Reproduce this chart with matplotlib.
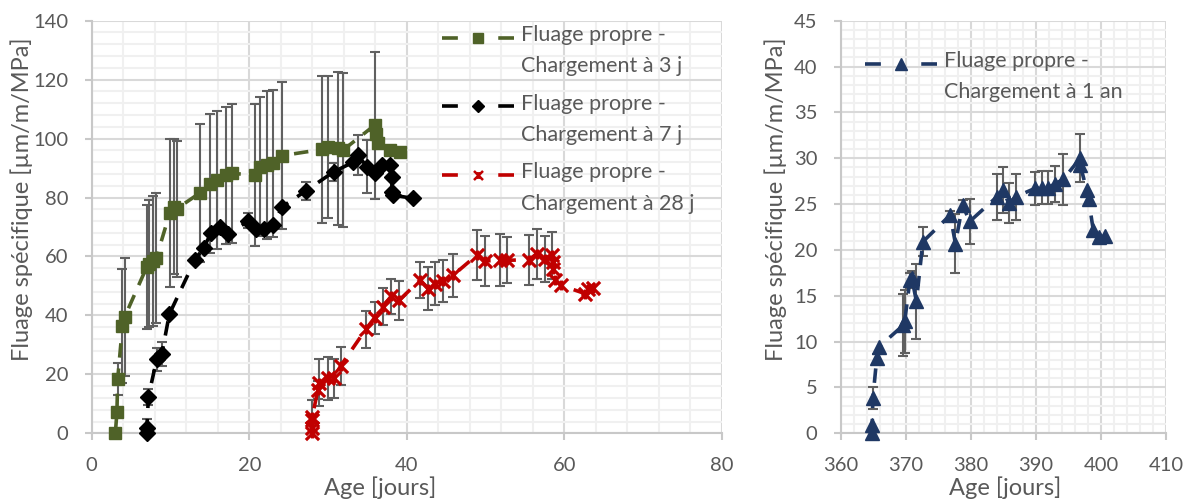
import numpy as np
import matplotlib
matplotlib.use("Agg")
import matplotlib.pyplot as plt
from matplotlib.path import Path
from matplotlib.lines import Line2D
from matplotlib.legend_handler import HandlerLine2D
from matplotlib.ticker import MultipleLocator

# ---------------- data ----------------
x3 = [3.0, 3.2, 3.3, 3.9, 4.2, 7.0, 7.3, 7.8, 8.2, 9.9, 10.4, 10.8, 13.7, 15.0, 15.9, 17.1,
      17.8, 20.7, 21.4, 22.2, 23.0, 24.1, 29.2, 30.0, 31.3, 31.9, 35.9, 36.1, 36.3, 37.9, 39.1]
y3 = [0, 7.1, 18.4, 36.4, 39.6, 56.5, 57.5, 58.5, 59.5, 74.7, 76.9, 76.2, 81.5, 84.7, 85.9, 87.6,
      88.2, 87.6, 90.5, 91.0, 91.6, 94.2, 96.3, 97.2, 96.7, 96.1, 104.5, 101.5, 98.5, 96.1, 95.6]
e3 = [0, 1, 5.5, 19.5, 20, 21, 21.5, 22, 22, 25, 23, 23, 23.5, 23.5, 23.5, 23.2,
      23.7, 24, 23.6, 25.2, 25, 25, 25, 24, 26, 26, 25, 0, 0, 0, 0]

x7 = [7.0, 7.0, 7.2, 8.25, 8.9, 9.85, 13.1, 14.2, 15.2, 16.3, 17.3, 19.9, 20.9, 21.9, 23.0, 24.2,
      27.2, 30.7, 33.2, 33.8, 34.9, 36.0, 36.8, 37.9, 38.1, 38.1, 38.3, 40.8]
y7 = [0, 1.8, 12.4, 25.1, 26.9, 40.4, 58.8, 63.0, 68.1, 70.1, 67.5, 72.1, 69.2, 69.2, 70.6, 76.9,
      82.3, 88.7, 92.0, 94.4, 90.5, 88.2, 91.0, 91.0, 87.0, 82.0, 80.8, 79.7]
e7 = [0.5, 3, 2.8, 4, 4, 0, 0, 0, 0, 0, 0, 2.5, 0, 0, 0, 0,
      3, 3, 0, 6.8, 9, 0, 0, 0, 0, 0, 0, 0]

x28 = [27.9, 27.9, 27.9, 28.0, 28.7, 28.9, 30.0, 30.7, 31.6, 34.8, 35.9, 37.0, 38.0, 39.0, 41.7,
       42.7, 43.6, 44.6, 45.9, 48.9, 49.9, 51.8, 52.7, 55.5, 56.5, 57.5, 58.4, 58.6, 58.6, 58.8,
       59.6, 62.6, 63.0, 63.6]
y28 = [0, 1.7, 4.5, 5.6, 14.7, 17.2, 18.6, 18.6, 22.9, 35.3, 39.2, 43.0, 46.5, 45.1, 52.0,
       49.1, 50.8, 51.6, 53.7, 60.5, 58.5, 58.7, 58.7, 58.9, 60.9, 59.2, 60.4, 58.1, 55.9, 51.9,
       50.2, 47.4, 49.1, 49.4]
e28 = [0, 0, 0, 5.7, 3, 8, 7.2, 6.5, 6.5, 6.3, 5.4, 6.3, 6.0, 6.5, 6.2,
       7.3, 7.3, 7.1, 7.3, 8.5, 8.4, 8.8, 7.8, 8.5, 8.4, 7.8, 8.0, 0, 0, 0,
       0, 0, 0, 0]

x365 = [364.8, 364.8, 364.9, 365.5, 365.8, 369.6, 369.8, 370.6, 370.9, 371.6, 372.6, 376.8, 377.6,
        378.7, 379.8, 384.0, 384.9, 385.8, 386.9, 389.8, 390.9, 391.9, 392.9, 394.2, 396.8, 396.8,
        397.8, 398.1, 398.8, 399.7, 400.6]
y365 = [0, 0.9, 3.8, 8.2, 9.4, 11.8, 12.2, 16.7, 16.9, 14.4, 20.9, 23.8, 20.7,
        24.9, 23.1, 25.8, 26.5, 25.1, 25.8, 26.7, 26.8, 26.8, 27.2, 27.7, 30.0, 29.3,
        26.5, 25.5, 22.2, 21.4, 21.5]
e365 = [0, 0, 1.2, 0.5, 0, 3.4, 3.4, 0.8, 0.8, 4.1, 1.6, 0.4, 3.2,
        0.5, 2.5, 2.5, 2.5, 2.2, 2.5, 1.8, 1.8, 1.8, 2.0, 2.8, 2.6, 0,
        0, 0, 0, 0, 0]

label_3 = "Fluage propre -\nChargement à 3 j"
label_7 = "Fluage propre -\nChargement à 7 j"
label_28 = "Fluage propre -\nChargement à 28 j"
label_365 = "Fluage propre -\nChargement à 1 an"
xlabel = "Age [jours]"
ylabel = "Fluage spécifique [µm/m/MPa]"

# ---------------- style ----------------
plt.rcParams['font.family'] = ['Lato', 'DejaVu Sans']
TXT = '#595959'
GREEN, BLACK, RED, BLUE = '#4F6228', '#000000', '#C00000', '#1F3864'
LW = 2.6
DASH = (0, (4, 3))
TICK_FS = 14.5
TITLE_FS = 17
LEG_FS = 15.5

star = Path([(-1, -1), (1, 1), (-1, 1), (1, -1), (0, -0.75), (0, 0.75)],
            [Path.MOVETO, Path.LINETO] * 3)

W, H = 1193, 501
fig = plt.figure(figsize=(W / 100, H / 100), dpi=100)
axL = fig.add_axes([91.7 / W, 1 - 433.3 / H, (722 - 91.7) / W, (433.3 - 20.7) / H])
axR = fig.add_axes([841 / W, 1 - 433.3 / H, (1166 - 841) / W, (433.3 - 20.7) / H])


def style(ax, xlim, ylim, xmaj, xmin, ymaj, ymin):
    ax.set_xlim(*xlim)
    ax.set_ylim(*ylim)
    ax.xaxis.set_major_locator(MultipleLocator(xmaj))
    ax.xaxis.set_minor_locator(MultipleLocator(xmin))
    ax.yaxis.set_major_locator(MultipleLocator(ymaj))
    ax.yaxis.set_minor_locator(MultipleLocator(ymin))
    ax.grid(which='minor', color='#F0F0F0', lw=1.5, zorder=0)
    ax.grid(which='major', color='#D9D9D9', lw=1.5, zorder=0)
    ax.set_axisbelow(True)
    for s in ['top', 'right']:
        ax.spines[s].set_visible(False)
    for s in ['left', 'bottom']:
        ax.spines[s].set_color('#C8C8C8')
        ax.spines[s].set_linewidth(1.5)
    ax.tick_params(which='major', length=5, width=1.5, color='#C8C8C8',
                   labelcolor=TXT, labelsize=TICK_FS, pad=12)
    ax.tick_params(which='minor', length=0)
    ax.set_xlabel(xlabel, fontsize=TITLE_FS, color=TXT)
    ax.set_ylabel(ylabel, fontsize=TITLE_FS, color=TXT)
    ax.yaxis.label.set_verticalalignment('center')
    ax.xaxis.label.set_verticalalignment('center')


style(axL, (0, 80), (0, 140), 20, 4, 20, 4)
style(axR, (360, 410), (0, 45), 10, 2, 5, 1)
axL.xaxis.set_label_coords(0.457, -0.1326)
axL.yaxis.set_label_coords(-0.1106, 0.568)
axR.xaxis.set_label_coords(0.505, -0.1326)
axR.yaxis.set_label_coords(-0.2, 0.568)


def series(ax, x, y, e, color, marker, ms, mew=1.0, mfc=None):
    x = np.asarray(x, float)
    y = np.asarray(y, float)
    e = np.asarray(e, float)
    m = e > 0
    ax.errorbar(x[m], y[m], yerr=e[m], fmt='none', ecolor='#606060', elinewidth=1.5,
                capsize=3.8, capthick=1.5, zorder=2)
    ax.plot(x, y, color=color, lw=LW, linestyle=DASH, marker=marker, markersize=ms,
            markeredgewidth=mew, markerfacecolor=mfc if mfc else color,
            markeredgecolor=color, zorder=3, clip_on=False)


series(axL, x3, y3, e3, GREEN, 's', 9)
series(axL, x7, y7, e7, BLACK, 'D', 7.8)
series(axL, x28, y28, e28, RED, star, 9.5, mew=2.3, mfc='none')
series(axR, x365, y365, e365, BLUE, '^', 9.5)


class TopHandler(HandlerLine2D):
    def __init__(self, shift, **kw):
        super().__init__(**kw)
        self.shift = shift

    def create_artists(self, legend, orig_handle, xdescent, ydescent, width, height,
                       fontsize, trans):
        arts = super().create_artists(legend, orig_handle, xdescent, ydescent, width,
                                      height, fontsize, trans)
        for a in arts:
            a.set_ydata(np.asarray(a.get_ydata(), float) + self.shift)
        return arts


HL = 3.35
L = HL * LEG_FS / LW
leg_ls = (0, (0.22 * L, 0.56 * L))


def proxy(color, marker, ms, mew=1.0, mfc=None):
    return Line2D([], [], color=color, lw=LW, linestyle=leg_ls, marker=marker,
                  markersize=ms, markeredgewidth=mew,
                  markerfacecolor=mfc if mfc else color, markeredgecolor=color)


LINESP = 1.72
shift = 0.5 * LINESP * 0.72 * LEG_FS

hL = [proxy(GREEN, 's', 7.5), proxy(BLACK, 'D', 6.5), proxy(RED, star, 6.5, mew=1.8, mfc='none')]
legL = axL.legend(hL, [label_3, label_7, label_28], loc='upper left',
                  bbox_to_anchor=(0.556, 0.99), borderaxespad=0, borderpad=0,
                  frameon=False, fontsize=LEG_FS, labelcolor=TXT, handlelength=HL,
                  handletextpad=0.32, labelspacing=0.8,
                  handler_map={h: TopHandler(shift) for h in hL})
for t in legL.get_texts():
    t.set_linespacing(LINESP)

hR = [proxy(BLUE, '^', 8)]
legR = axR.legend(hR, [label_365], loc='upper left', bbox_to_anchor=(0.074, 0.927),
                  borderaxespad=0, borderpad=0, frameon=False, fontsize=LEG_FS,
                  labelcolor=TXT, handlelength=HL, handletextpad=0.32,
                  handler_map={h: TopHandler(shift) for h in hR})
for t in legR.get_texts():
    t.set_linespacing(LINESP)

fig.savefig('out.png', dpi=100)
